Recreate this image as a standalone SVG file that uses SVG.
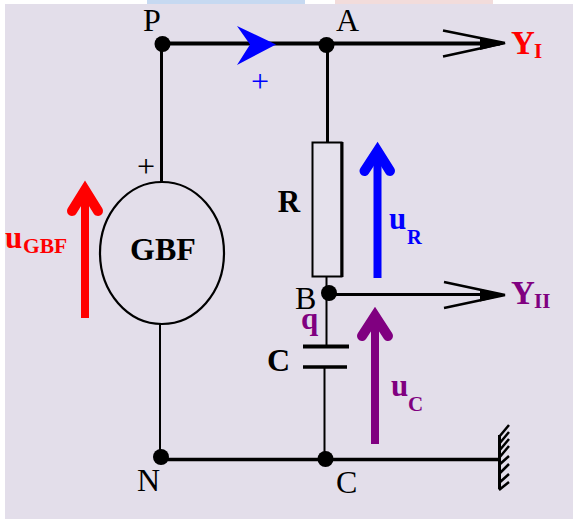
<svg xmlns="http://www.w3.org/2000/svg" width="573" height="519" viewBox="0 0 573 519">
<style>
.w{fill:none;stroke:#000;stroke-linecap:butt}
.t{font-family:"Liberation Serif",serif;fill:#000}
.s{font-family:"Liberation Serif",serif;font-weight:bold}
.b{font-weight:bold}
.dot{fill:#000}
.red{fill:#f00}.blu{fill:#00f}.pur{fill:#800080}
.h{fill:none;stroke-width:10;stroke-linecap:round;stroke-linejoin:miter;stroke-miterlimit:10}
</style>
<rect width="573" height="519" fill="#fff"/>
<rect x="147" y="0" width="158" height="4" fill="#c6d9f1"/>
<rect x="335" y="0" width="158" height="4" fill="#f2dcdb"/>
<rect x="5" y="4" width="568" height="515" fill="#e3deea"/>
<g id="connectors">
<path class="w" stroke-width="4" d="M163 43.500H500"/>
<path class="w" stroke-width="3" d="M161.500 44V182"/>
<path class="w" stroke-width="2" d="M160 324V457"/>
<path class="w" stroke-width="3" d="M327.500 44V142"/>
<path class="w" stroke-width="2" d="M326.500 277V346"/>
<path class="w" stroke-width="2" d="M324.500 367V459"/>
<path class="w" stroke-width="3" d="M329 294.500H500"/>
<path class="w" stroke-width="3.500" d="M162 459.500H500"/>
<path class="w" stroke-width="2.500" d="M443 30.500L505 43M443 56.500L505 43"/>
<path class="w" stroke-width="2.500" d="M444 282L505 295M444 308L505 295"/>
<path d="M506 43.500L480 37.500V50Z" class="dot"/>
<path d="M506 295L480 289V301.500Z" class="dot"/>
</g>
<g id="node-P"><circle class="dot" cx="162.500" cy="44" r="8"/><text class="t" x="143" y="31" font-size="32">P</text></g>
<g id="node-A"><circle class="dot" cx="326.500" cy="45" r="8"/><text class="t" x="336" y="31" font-size="32">A</text></g>
<g id="current-arrow"><path class="blu" d="M276 44.500L237 26L250 44.500L237 65Z"/><text x="260" y="92" font-size="32" text-anchor="middle" class="blu" font-family="Liberation Serif,serif">+</text></g>
<g id="node-GBF">
<ellipse cx="162" cy="253" rx="62" ry="71" fill="none" stroke="#000" stroke-width="2.200"/>
<text class="t b" x="163" y="260" font-size="32" text-anchor="middle">GBF</text>
<text class="t" x="146" y="177" font-size="32" text-anchor="middle">+</text>
</g>
<g id="node-R">
<rect x="312.500" y="142.500" width="29" height="134" fill="#f2eff4" fill-opacity="0.200" stroke="#000" stroke-width="2"/>
<path class="w" stroke-width="3" d="M342 142V277"/>
<text class="t b" x="289" y="212" font-size="31" text-anchor="middle">R</text>
</g>
<g id="node-B"><circle class="dot" cx="329" cy="293" r="8"/><text class="t" x="295" y="309" font-size="32">B</text>
<text x="301" y="329" font-size="31" class="pur s">q</text></g>
<g id="node-C-capacitor">
<path class="w" stroke-width="4" d="M303 346.500H349"/>
<path class="w" stroke-width="3.500" d="M303 367H347"/>
<text class="t b" x="267" y="371" font-size="32">C</text>
</g>
<g id="node-N"><circle class="dot" cx="161" cy="457" r="8"/><text class="t" x="137" y="491" font-size="32">N</text></g>
<g id="node-C"><circle class="dot" cx="325.500" cy="459" r="8"/><text class="t" x="336" y="493" font-size="32">C</text></g>
<g id="ground">
<path class="w" stroke-width="3" d="M499.500 435V489"/>
<path class="w" stroke-width="2.500" d="M499 437L509 425M499 444L509 432M499 451L509 439M499 458L509 446M499 465L509 456M499 474L509 464M499 483L509 474M499 490L509 482"/>
</g>
<g id="u-GBF"><path d="M81 318H89V190H81Z" class="red"/><path class="h" stroke="#f00" d="M72 211L85 190L98 211"/>
<text x="5" y="248" font-size="31" class="red s">u</text><text x="23" y="253" font-size="21.500" class="red s">GBF</text></g>
<g id="u-R"><path d="M373.500 278H381.500V151H373.500Z" class="blu"/><path class="h" stroke="#00f" d="M364.500 171L377.500 151L390 171"/>
<text x="389" y="229" font-size="31" class="blu s">u</text>
<text x="407" y="244" font-size="20.500" class="blu s">R</text></g>
<g id="u-C"><path d="M371 444H379V316H371Z" class="pur"/><path class="h" stroke="#800080" d="M362 336L375 316L388 336"/>
<text x="391" y="396" font-size="31" class="pur s">u</text>
<text x="408" y="411" font-size="21" class="pur s">C</text></g>
<g id="Y1"><text x="511" y="54" font-size="33" class="red s">Y</text><text x="534" y="58" font-size="21" class="red s">I</text></g>
<g id="Y2"><text x="511" y="304" font-size="33" class="pur s">Y</text><text x="534" y="308" font-size="21" class="pur s">II</text></g>
</svg>
